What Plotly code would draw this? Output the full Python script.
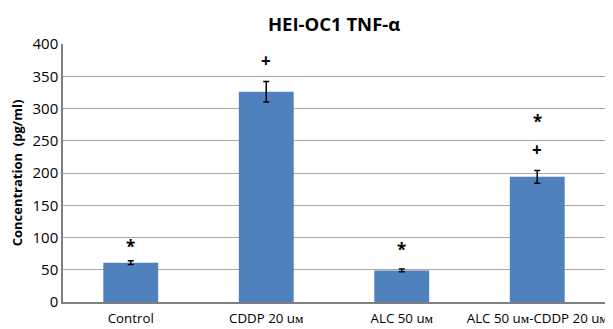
import plotly.graph_objects as go

categories = ["Control", "CDDP 20 uᴍ", "ALC 50 uᴍ", "ALC 50 uᴍ-CDDP 20 uᴍ"]
values = [61, 326, 49, 194]
errors = [3, 16, 2, 10]
marks = [["*"], ["+"], ["*"], ["+", "*"]]
mark_y = [[86], [375], [82], [236, 280]]
yticks = [0, 50, 100, 150, 200, 250, 300, 350, 400]

fig = go.Figure()
fig.add_trace(go.Bar(
    x=categories, y=values, width=0.405,
    marker=dict(color="#4F81BD", line=dict(width=0)),
    error_y=dict(type="data", array=errors, visible=True, color="black", thickness=1.5, width=3),
))

for cat, ms, ys in zip(categories, marks, mark_y):
    for m, yv in zip(ms, ys):
        fig.add_annotation(x=cat, y=yv, text=f"<b>{m}</b>", showarrow=False,
                           font=dict(size=17, color="black", family="Open Sans"))

# page body has an 8px margin; figure sized/offset to compensate
fig.update_layout(
    width=605, height=321,
    margin=dict(l=55, r=8, t=36, b=27),
    plot_bgcolor="white", paper_bgcolor="white",
    title=dict(text="<b>HEI-OC1 TNF-α</b>", x=0.539, xanchor="center", y=0.95, yanchor="middle",
               font=dict(size=18.5, family="Open Sans", color="black")),
    font=dict(family="Open Sans", size=13, color="black"),
    showlegend=False,
)
fig.update_xaxes(showline=True, linecolor="#7F7F7F", linewidth=1.5, ticks="", tickfont=dict(size=13.3),
                 automargin=False, ticklabelstandoff=3)
fig.update_yaxes(range=[0, 400], tickvals=yticks, showgrid=True, gridcolor="#A6A6A6", gridwidth=1,
                 showline=True, linecolor="#7F7F7F", linewidth=1.5, ticks="", zeroline=False,
                 tickfont=dict(size=15), automargin=False,
                 title=dict(text="<b>Concentration  (pg/ml)</b>", font=dict(size=13), standoff=8))

fig.write_html("out.html")
